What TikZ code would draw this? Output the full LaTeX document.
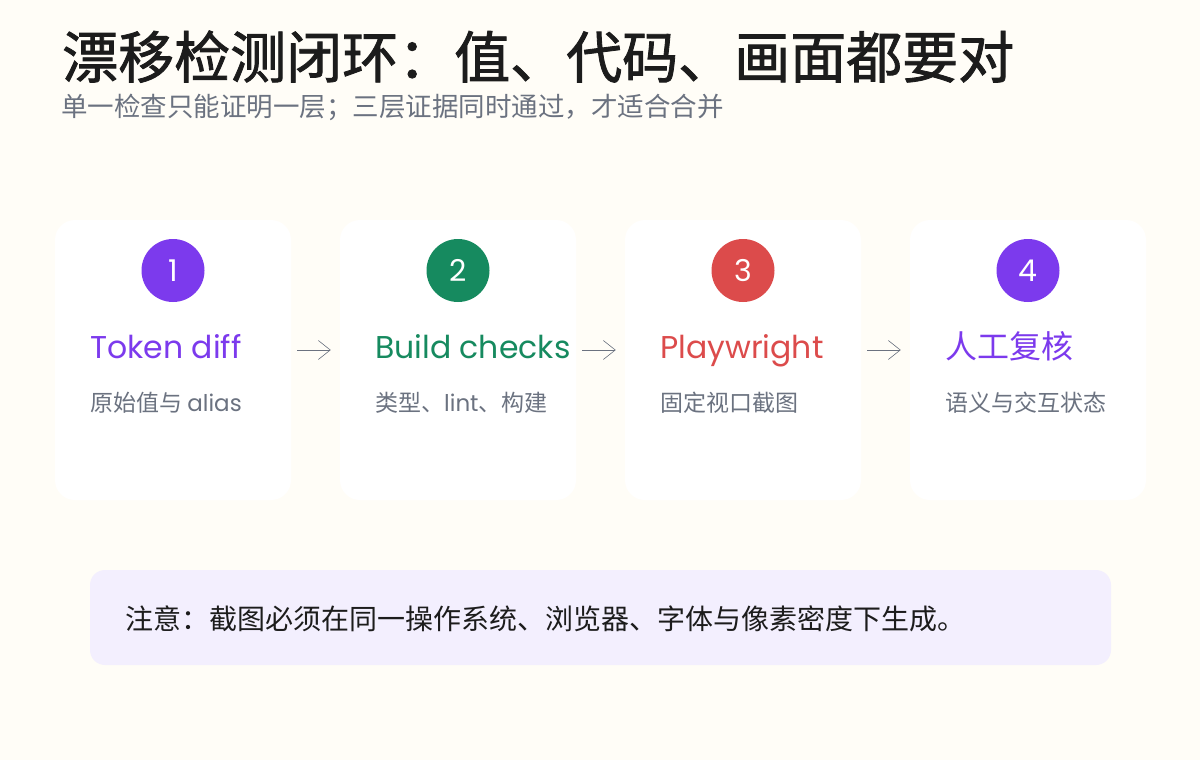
\documentclass[tikz,border=0pt]{standalone}
\usepackage{fontspec}
\setmainfont{Noto Sans CJK SC}
\newfontfamily\lat{Poppins}
\newfontfamily\titlefont{Noto Sans CJK SC}[FakeBold=1.5]
\usetikzlibrary{positioning,arrows.meta}
\definecolor{bgcream}{HTML}{FFFDF7}
\definecolor{inkdark}{HTML}{1C1C1C}
\definecolor{inkgray}{HTML}{6B7280}
\definecolor{vio}{HTML}{7C3AED}
\definecolor{grn}{HTML}{168A5F}
\definecolor{rd}{HTML}{DC4B4B}
\definecolor{notebg}{HTML}{F3EFFE}
\newcommand{\fsz}[1]{\fontsize{#1}{#1}\selectfont}

\begin{document}
\begin{tikzpicture}[x=1pt,y=-1pt,
  card/.style={fill=white,rounded corners=20pt,minimum width=236pt,minimum height=280pt,inner sep=0pt},
  badge/.style={circle,fill=#1,minimum size=63pt,inner sep=0pt,text=white,font=\lat\fsz{30}},
  head/.style={anchor=base west,inner sep=0pt,text=#1},
  desc/.style={anchor=base west,inner sep=0pt,text=inkgray,font=\fsz{23}},
  flow/.style={-{Straight Barb[length=12pt,width=19pt,line width=0.6pt]},draw=inkgray,line width=0.8pt,shorten <=6pt,shorten >=9pt}]
\fill[bgcream] (0,0) rectangle (1200,760);
\useasboundingbox (0,0) rectangle (1200,760);

\node[anchor=base west,inner sep=0pt,text=inkdark,font=\titlefont\fsz{56}] (title) at (62,78)
  {漂移检测闭环：值、代码、画面都要对};
\node[anchor=base west,inner sep=0pt,text=inkgray,font=\fsz{26.5}] (subtitle) at (61,117)
  {单一检查只能证明一层；三层证据同时通过，才适合合并};

\foreach \i/\col/\hd/\ds in {1/vio/{\lat Token diff}/{原始值与 {\lat alias}},
                             2/grn/{\lat Build checks}/{类型、{\lat lint}、构建},
                             3/rd/{\lat Playwright}/{固定视口截图},
                             4/vio/{\fsz{32}人工复核}/{语义与交互状态}} {
  \node[card] (card\i) at (173+285*\i-285,360) {};
  \node[badge=\col] (num\i) at (173+285*\i-285,270.5) {\i};
  \node[head=\col,font=\fsz{31.5}] (head\i) at (90+285*\i-285,358) {\hd};
  \node[desc] (desc\i) at (90+285*\i-285,411) {\ds};
}
\foreach \i [evaluate=\i as \j using int(\i+1)] in {1,2,3}
  \draw[flow] ([yshift=10pt]card\i.east) -- ([yshift=10pt]card\j.west);

\node[fill=notebg,rounded corners=15pt,minimum width=1021pt,minimum height=95pt,inner sep=0pt] (note) at (600.5,617.5) {};
\node[anchor=base west,inner sep=0pt,text=inkdark,font=\fsz{28}] (notetext) at (125,629)
  {注意：截图必须在同一操作系统、浏览器、字体与像素密度下生成。};
\end{tikzpicture}
\end{document}
